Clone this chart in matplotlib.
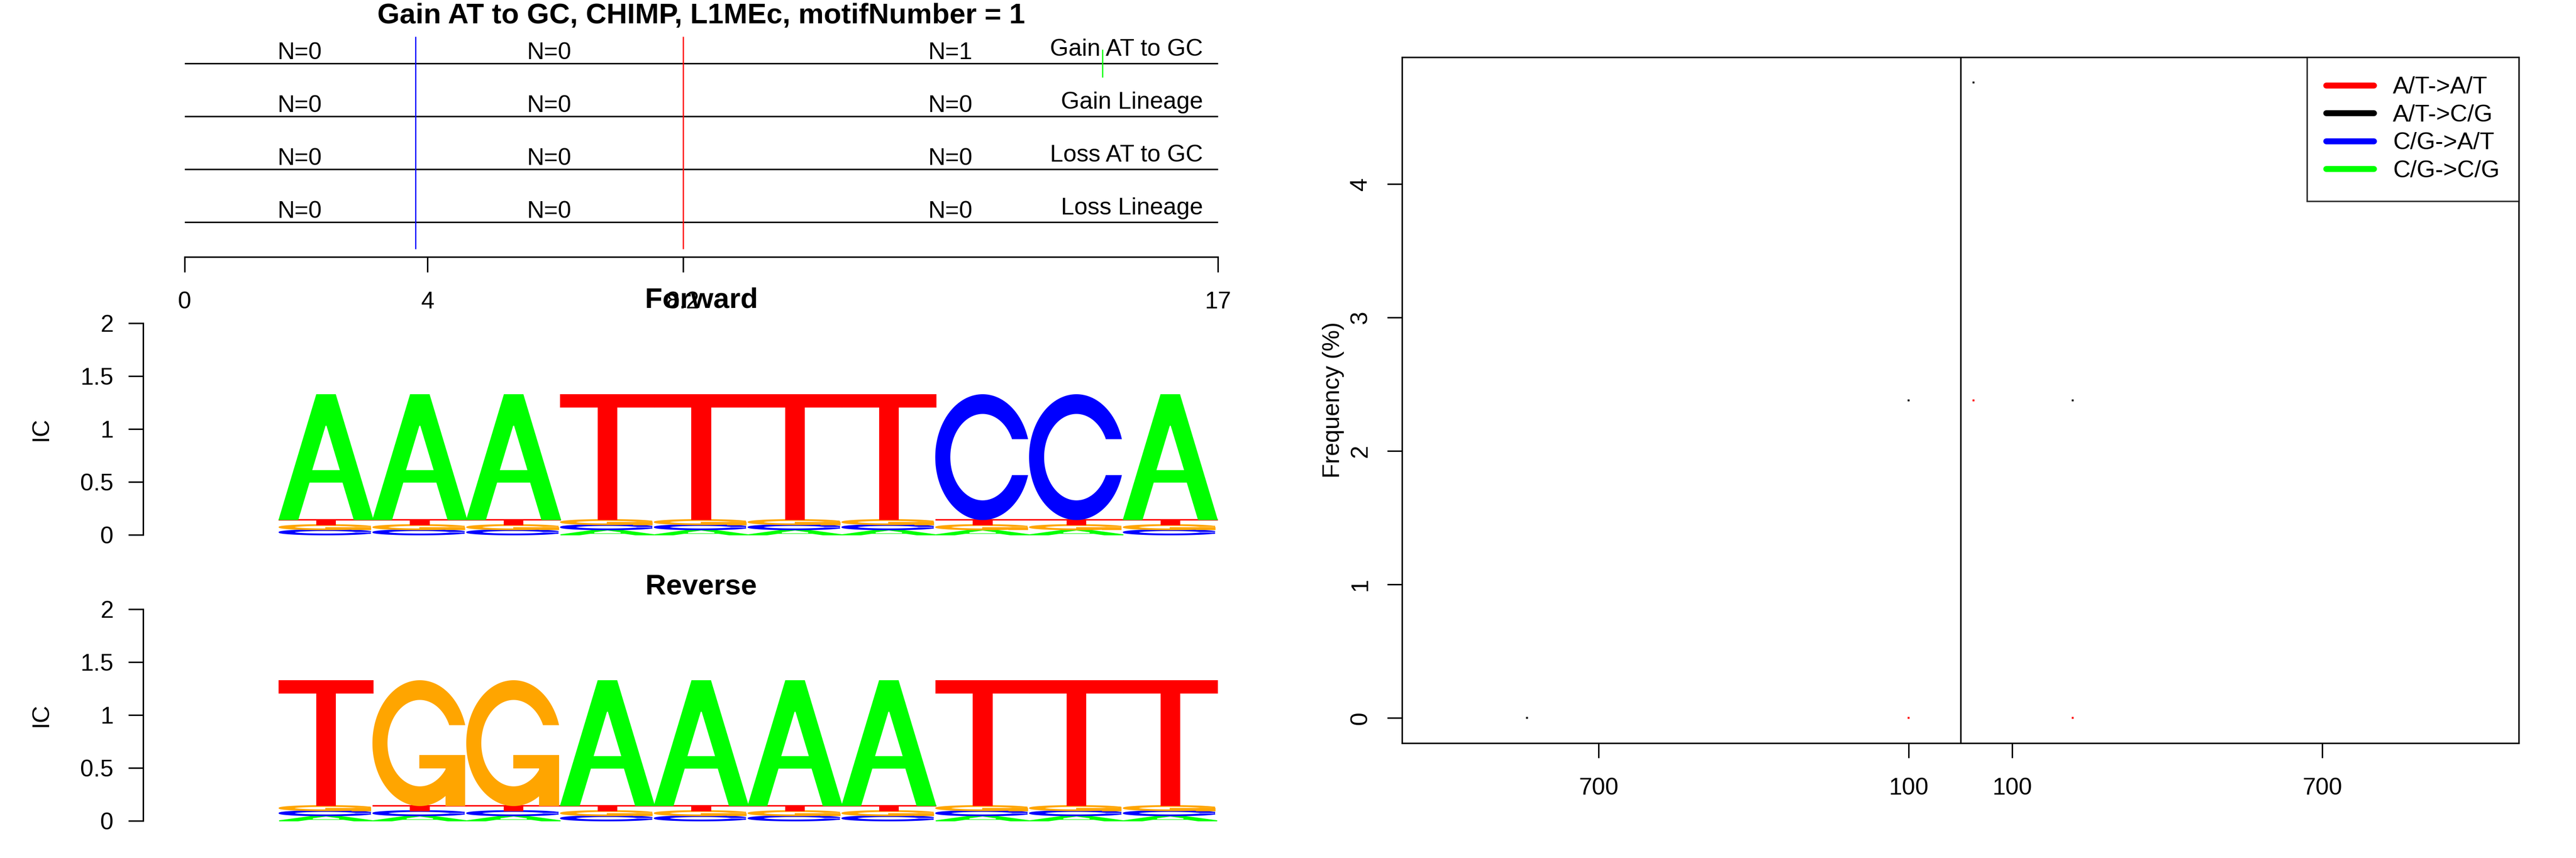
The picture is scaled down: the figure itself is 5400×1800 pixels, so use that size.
import numpy as np
import matplotlib
matplotlib.use("Agg")
import matplotlib.pyplot as plt
from matplotlib.patches import Polygon
from matplotlib.lines import Line2D

plt.rcParams['font.family'] = ['Liberation Sans', 'DejaVu Sans']
plt.rcParams['font.size'] = 12

# ---------------- data ----------------
main_title = "Gain AT to GC, CHIMP, L1MEc, motifNumber = 1"
track_labels = ["Gain AT to GC", "Gain Lineage", "Loss AT to GC", "Loss Lineage"]
track_counts = [[0, 0, 1], [0, 0, 0], [0, 0, 0], [0, 0, 0]]
region_bounds = [0, 3.8, 8.2, 17]
top_ticks = [0, 4, 8.2, 17]
top_tick_labels = ["0", "4", "8.2", "17"]
event_pos = [15.1]
event_track = [0]

bases = ["A", "C", "G", "T"]
base_colors = {"A": "#00FF00", "C": "#0000FF", "G": "#FFA500", "T": "#FF0000"}

fwd_A = [1.18, 1.18, 1.18, 0.048, 0.048, 0.048, 0.048, 0.048, 0.048, 1.18]
fwd_C = [0.048, 0.048, 0.048, 0.048, 0.048, 0.048, 0.048, 1.18, 1.18, 0.048]
fwd_G = [0.048, 0.048, 0.048, 0.048, 0.048, 0.048, 0.048, 0.048, 0.048, 0.048]
fwd_T = [0.048, 0.048, 0.048, 1.18, 1.18, 1.18, 1.18, 0.048, 0.048, 0.048]

rev_A = [0.048, 0.048, 0.048, 1.18, 1.18, 1.18, 1.18, 0.048, 0.048, 0.048]
rev_C = [0.048, 0.048, 0.048, 0.048, 0.048, 0.048, 0.048, 0.048, 0.048, 0.048]
rev_G = [0.048, 1.18, 1.18, 0.048, 0.048, 0.048, 0.048, 0.048, 0.048, 0.048]
rev_T = [1.18, 0.048, 0.048, 0.048, 0.048, 0.048, 0.048, 1.18, 1.18, 1.18]

ic_ticks = [0, 0.5, 1, 1.5, 2]
ic_tick_labels = ["0", "0.5", "1", "1.5", "2"]

dist_ticks = [-700, -100, 100, 700]
dist_tick_labels = ["700", "100", "100", "700"]
freq_ticks = [0, 1, 2, 3, 4]
series_names = ["A/T->A/T", "A/T->C/G", "C/G->A/T", "C/G->C/G"]
series_colors = ["#FF0000", "#000000", "#0000FF", "#00FF00"]
at_at_x = [-100, 25, 217]
at_at_y = [0.0, 2.38, 0.0]
at_cg_x = [-838, -100, 25, 217]
at_cg_y = [0.0, 2.38, 4.76, 2.38]
cg_at_x = []
cg_at_y = []
cg_cg_x = []
cg_cg_y = []

# ---------------- figure ----------------
W, H = 5400, 1800
fig = plt.figure(figsize=(18, 6), dpi=300)


def rect(x0, y0, x1, y1):
    return [x0 / W, 1 - y1 / H, (x1 - x0) / W, (y1 - y0) / H]


def fpos(x, y):
    return (x / W, 1 - y / H)


PT = 72 / 300.0  # points per pixel

# ---- letter shapes (unit box) ----
def ring_shape():
    a1 = np.linspace(0.3 + np.pi / 2, np.pi, 100)
    a2 = np.linspace(np.pi, 1.5 * np.pi, 100)
    xl1 = 0.5 + 0.5 * np.sin(a1); yl1 = 0.5 + 0.5 * np.cos(a1)
    xl2 = 0.5 + 0.5 * np.sin(a2); yl2 = 0.5 + 0.5 * np.cos(a2)
    xl = np.concatenate([xl1, xl2]); yl = np.concatenate([yl1, yl2])
    x = np.concatenate([xl, xl[::-1]]); y = np.concatenate([yl, 1 - yl[::-1]])
    xi1 = 0.5 + 0.35 * np.sin(a1); yi1 = 0.5 + 0.35 * np.cos(a1)
    m = yi1 <= yl1.max()
    xi1 = xi1[m]; yi1 = yi1[m]
    yi1[0] = yl1.max()
    xi2 = 0.5 + 0.35 * np.sin(a2); yi2 = 0.5 + 0.35 * np.cos(a2)
    xi = np.concatenate([xi1, xi2]); yi = np.concatenate([yi1, yi2])
    x1 = np.concatenate([xi, xi[::-1]]); y1 = np.concatenate([yi, 1 - yi[::-1]])
    x = np.concatenate([x, x1[::-1]]); y = np.concatenate([y, y1[::-1]])
    return x, y, xl1.max()


def letter_polys(b):
    col = base_colors[b]
    if b == "A":
        x = np.array([0, 4, 6, 10, 8, 6.8, 3.2, 2, 0]) * 0.1
        y = np.array([0, 10, 10, 0, 0, 3, 3, 0, 0]) * 0.1
        hx = np.array([3.6, 5, 6.4, 3.6]) * 0.1
        hy = np.array([4, 7.5, 4, 4]) * 0.1
        return [(x, y, col), (hx, hy, "white")]
    if b == "T":
        x = np.array([0, 10, 10, 6, 6, 4, 4, 0]) * 0.1
        y = np.array([10, 10, 9, 9, 0, 0, 9, 9]) * 0.1
        return [(x, y, col)]
    if b == "C":
        x, y, _ = ring_shape()
        return [(x, y, col)]
    if b == "G":
        x, y, r1 = ring_shape()
        h1 = 0.4
        xa = np.array([r1, 0.5, 0.5, r1 - 0.2, r1 - 0.2, r1, r1])
        ya = np.array([h1, h1, h1 - 0.1, h1 - 0.1, 0, 0, h1])
        return [(x, y, col), (xa, ya, col)]


def draw_logo(ax, cols):
    n = len(cols["A"])
    for i in range(n):
        hs = [(cols[b][i], k, b) for k, b in enumerate(bases)]
        hs.sort(key=lambda t: (t[0], t[1]))
        ybase = 0.0
        x0 = i + 1
        for h, _, b in hs:
            for px, py, c in letter_polys(b):
                pts = np.column_stack([x0 + px, ybase + h * py])
                ax.add_patch(Polygon(pts, closed=True, facecolor=c, edgecolor=c,
                                     linewidth=0.5, clip_on=False))
            ybase += h


# ---------------- top panel ----------------
axt = fig.add_axes(rect(300, 60, 2640, 539))
axt.set_xlim(-0.68, 17.68)
axt.set_ylim(0.34, 4.66)
for s in ["left", "right", "top"]:
    axt.spines[s].set_visible(False)
axt.spines["bottom"].set_bounds(region_bounds[0], region_bounds[-1])
axt.spines["bottom"].set_linewidth(0.75)
axt.set_yticks([])
axt.set_xticks(top_ticks)
axt.set_xticklabels(top_tick_labels)
axt.tick_params(axis="x", length=32 * PT, width=0.75, pad=40 * PT, labelsize=12)

nrow = len(track_labels)
mids = [(region_bounds[j] + region_bounds[j + 1]) / 2 for j in range(len(region_bounds) - 1)]
for r, lab in enumerate(track_labels):
    yr = nrow - r
    axt.plot([region_bounds[0], region_bounds[-1]], [yr, yr], color="black", lw=0.75,
             solid_capstyle="butt")
    for j, m in enumerate(mids):
        axt.text(m, yr + 0.081, "N=%d" % track_counts[r][j], ha="center", va="baseline",
                 fontsize=12)
    axt.text(16.75, yr + 0.144, lab, ha="right", va="baseline", fontsize=12)

axt.plot([region_bounds[1], region_bounds[1]], [0.5, nrow + 0.5], color="#0000FF", lw=0.6)
axt.plot([region_bounds[2], region_bounds[2]], [0.5, nrow + 0.5], color="#FF0000", lw=0.6)
for p, t in zip(event_pos, event_track):
    yr = nrow - t
    axt.plot([p, p], [yr - 0.25, yr + 0.25], color="#00FF00", lw=0.6)

fig.text(*fpos(1470, 33), main_title, ha="center", va="center", fontsize=14.4,
         fontweight="bold")

# ---------------- logos ----------------
def setup_logo(ax):
    ax.set_xlim(-0.45, 11.45)
    ax.set_ylim(0, 2)
    for s in ["right", "top", "bottom"]:
        ax.spines[s].set_visible(False)
    ax.spines["left"].set_bounds(0, 2)
    ax.spines["left"].set_linewidth(0.75)
    ax.set_xticks([])
    ax.set_yticks(ic_ticks)
    ax.set_yticklabels(ic_tick_labels)
    ax.tick_params(axis="y", length=31 * PT, width=0.75, pad=31 * PT, labelsize=12)
    ax.patch.set_visible(False)


axf = fig.add_axes(rect(300, 678, 2640, 1122))
setup_logo(axf)
draw_logo(axf, {"A": fwd_A, "C": fwd_C, "G": fwd_G, "T": fwd_T})
fig.text(*fpos(1470, 630), "Forward", ha="center", va="center", fontsize=14.4,
         fontweight="bold")
fig.text(*fpos(86, 900), "IC", ha="center", va="center", rotation=90, fontsize=12)

axr = fig.add_axes(rect(300, 1278, 2640, 1722))
setup_logo(axr)
draw_logo(axr, {"A": rev_A, "C": rev_C, "G": rev_G, "T": rev_T})
fig.text(*fpos(1470, 1231), "Reverse", ha="center", va="center", fontsize=14.4,
         fontweight="bold")
fig.text(*fpos(86, 1500), "IC", ha="center", va="center", rotation=90, fontsize=12)

# ---------------- right panel ----------------
axd = fig.add_axes(rect(2939, 120, 5280, 1559))
axd.set_xlim(-1080, 1080)
axd.set_ylim(-0.19, 4.95)
for s in axd.spines.values():
    s.set_linewidth(0.75)
axd.set_xticks(dist_ticks)
axd.set_xticklabels(dist_tick_labels)
axd.set_yticks(freq_ticks)
axd.set_yticklabels([str(v) for v in freq_ticks])
axd.tick_params(axis="x", length=31 * PT, width=0.75, pad=41 * PT, labelsize=12)
axd.tick_params(axis="y", length=31 * PT, width=0.75, pad=56 * PT, labelsize=12,
                labelrotation=90)
for lbl in axd.get_yticklabels():
    lbl.set_ha("center")
    lbl.set_va("center")
axd.axvline(0, color="black", lw=0.75)

series = [(at_at_x, at_at_y), (at_cg_x, at_cg_y), (cg_at_x, cg_at_y), (cg_cg_x, cg_cg_y)]
for (sx, sy), c in zip(series, series_colors):
    if len(sx):
        axd.plot(sx, sy, linestyle="none", marker="s", markersize=0.8, color=c,
                 markeredgewidth=0)

handles = [Line2D([0], [0], color=c, lw=3, solid_capstyle="round") for c in series_colors]
leg = axd.legend(handles, series_names, loc="upper right", borderaxespad=0,
                 fancybox=False, frameon=True, edgecolor="black", fontsize=12,
                 handlelength=2.0, handletextpad=0.8, labelspacing=0.25,
                 borderpad=0.8)
leg.get_frame().set_linewidth(0.75)
fig.text(*fpos(2795, 839), "Frequency (%)", ha="center", va="center", rotation=90,
         fontsize=12)

fig.savefig("out.png", dpi=300, facecolor="white")
